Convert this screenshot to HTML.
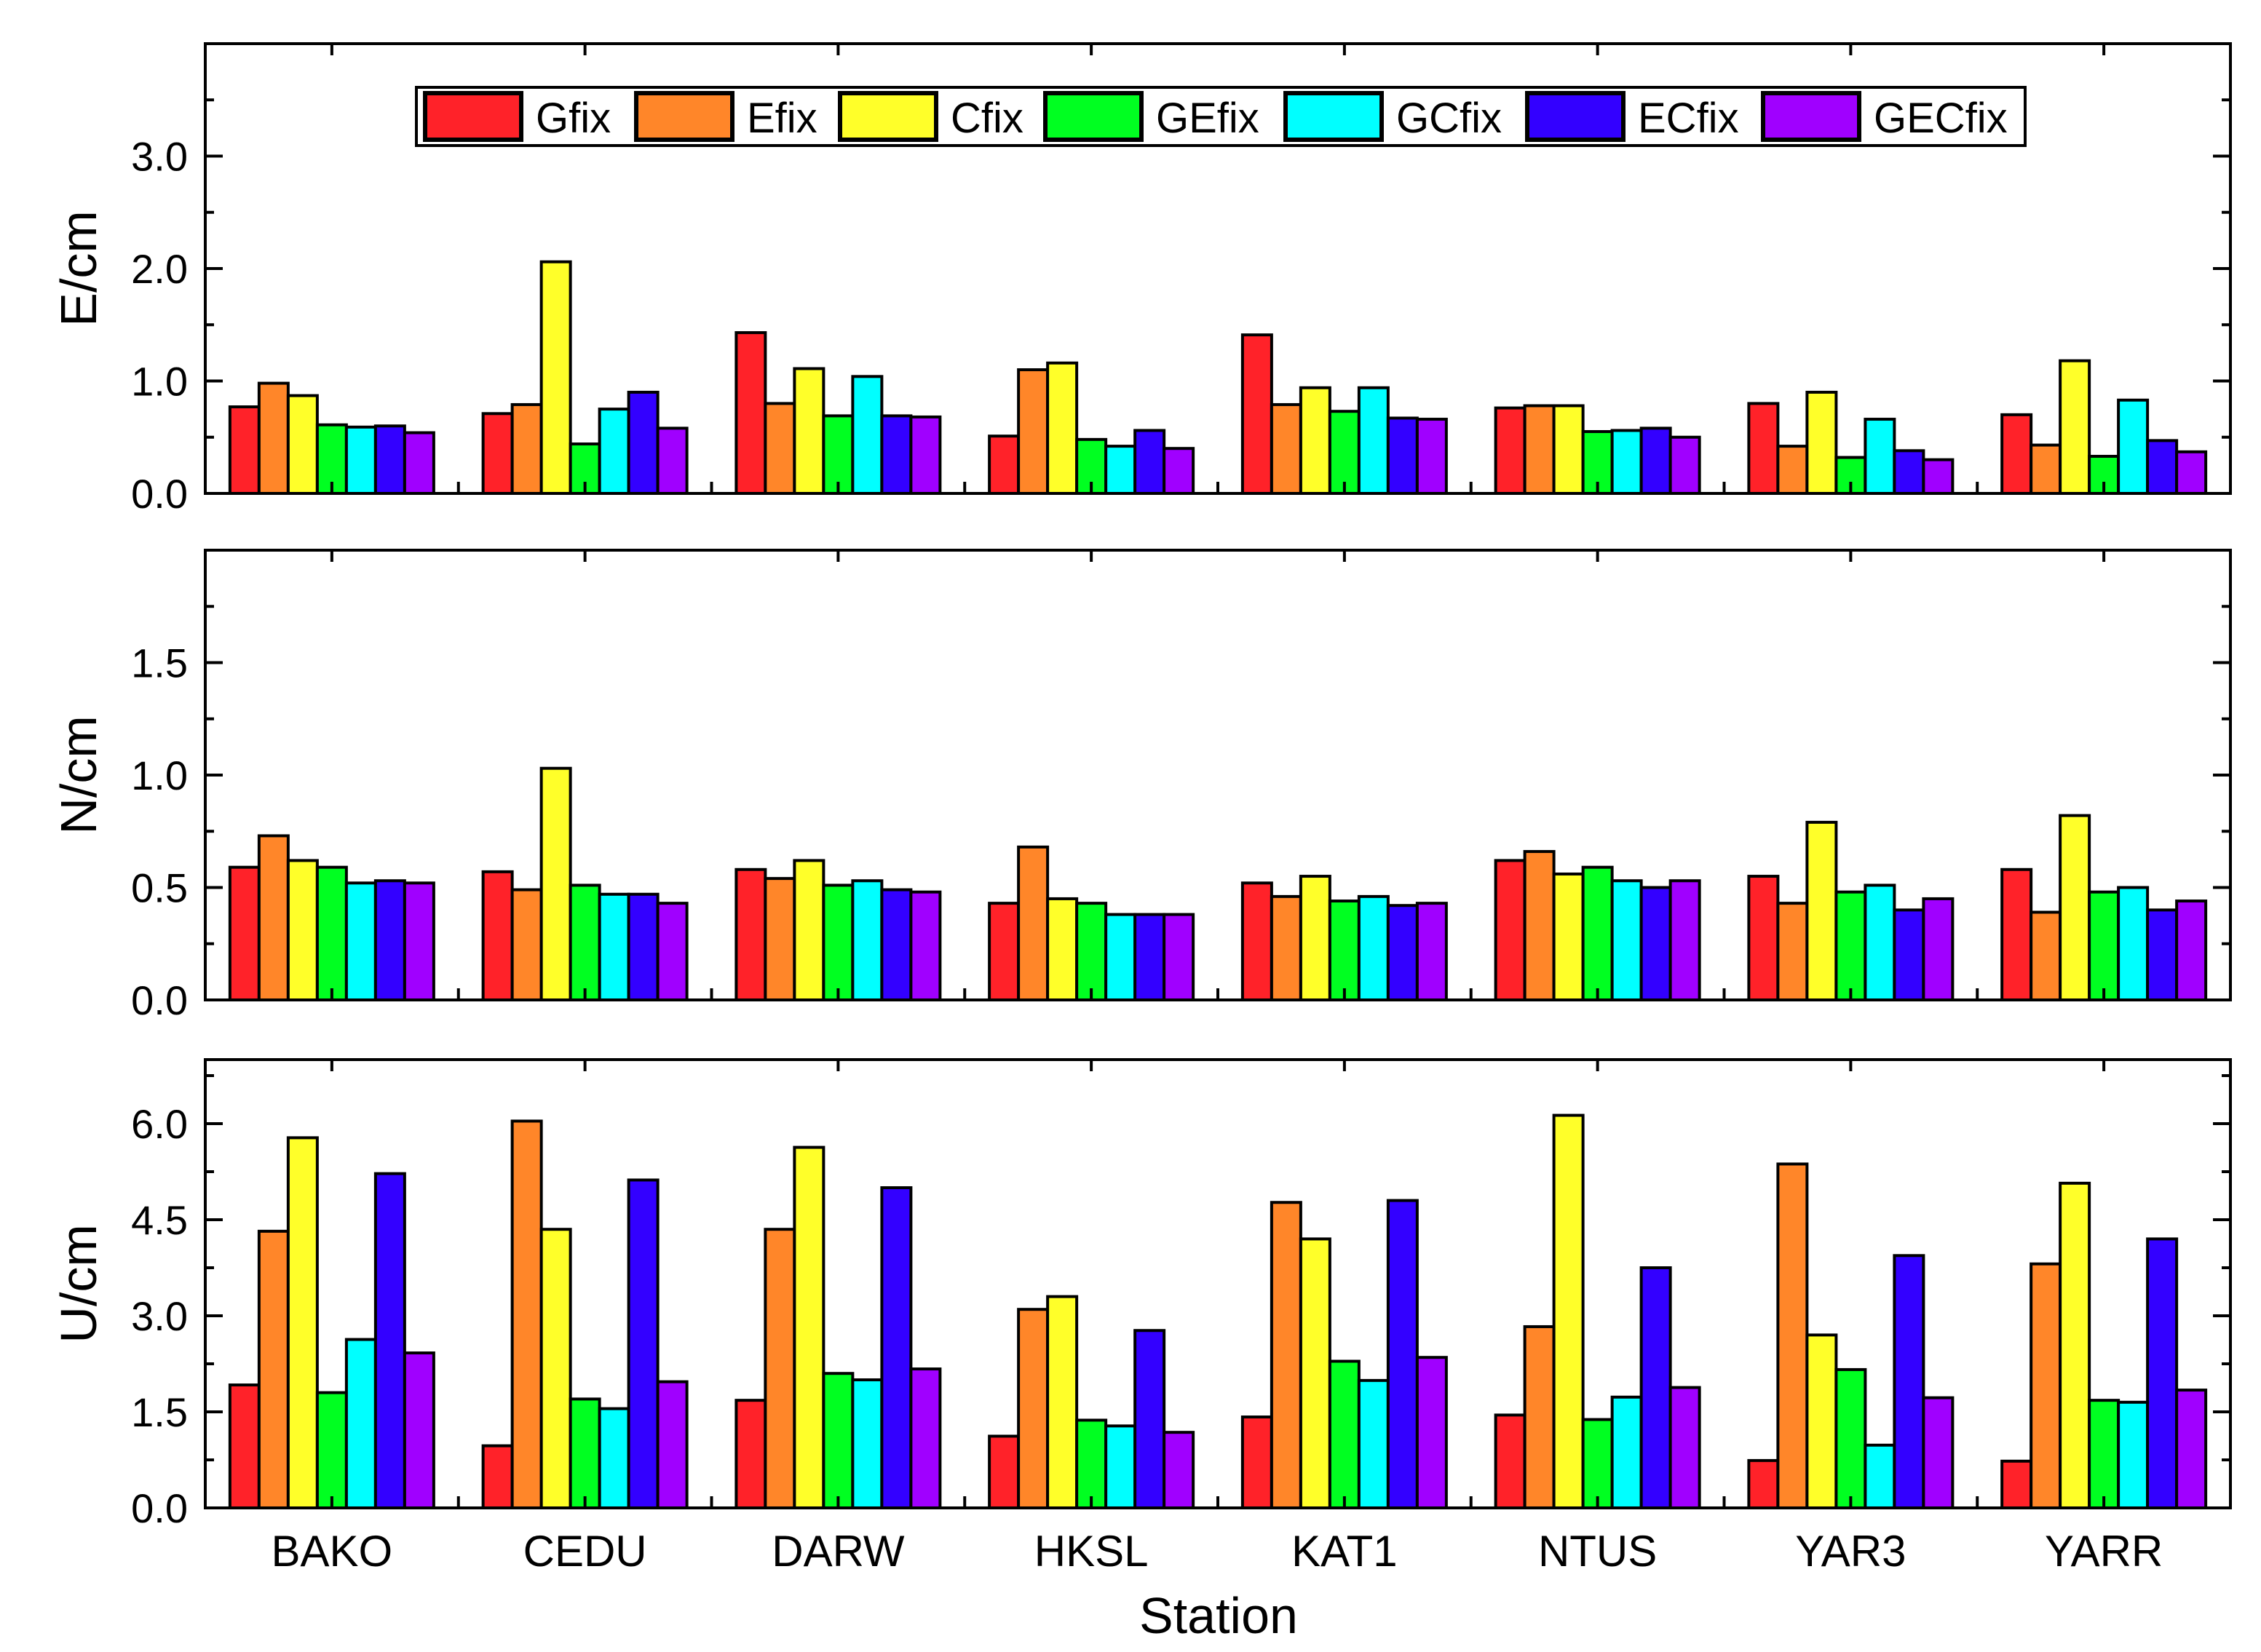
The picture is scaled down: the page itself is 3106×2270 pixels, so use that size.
<!DOCTYPE html>
<html><head><meta charset="utf-8"><style>
html,body{margin:0;padding:0;background:#fff;}
svg{display:block;font-family:"Liberation Sans",Arial,sans-serif;}
</style></head><body>
<svg id="chart" width="3106" height="2270" viewBox="0 0 1553 1135" xmlns="http://www.w3.org/2000/svg"></svg>
<script>
const categories = ["BAKO","CEDU","DARW","HKSL","KAT1","NTUS","YAR3","YARR"];
const seriesNames = ["Gfix","Efix","Cfix","GEfix","GCfix","ECfix","GECfix"];
const colors = ["#ff2229","#ff8629","#ffff29","#00ff21","#00ffff","#3300ff","#a000ff"];
const eValues = [
 [0.77,0.98,0.87,0.61,0.59,0.60,0.54],
 [0.71,0.79,2.06,0.44,0.75,0.90,0.58],
 [1.43,0.80,1.11,0.69,1.04,0.69,0.68],
 [0.51,1.10,1.16,0.48,0.42,0.56,0.40],
 [1.41,0.79,0.94,0.73,0.94,0.67,0.66],
 [0.76,0.78,0.78,0.55,0.56,0.58,0.50],
 [0.80,0.42,0.90,0.32,0.66,0.38,0.30],
 [0.70,0.43,1.18,0.33,0.83,0.47,0.37]];
const nValues = [
 [0.59,0.73,0.62,0.59,0.52,0.53,0.52],
 [0.57,0.49,1.03,0.51,0.47,0.47,0.43],
 [0.58,0.54,0.62,0.51,0.53,0.49,0.48],
 [0.43,0.68,0.45,0.43,0.38,0.38,0.38],
 [0.52,0.46,0.55,0.44,0.46,0.42,0.43],
 [0.62,0.66,0.56,0.59,0.53,0.50,0.53],
 [0.55,0.43,0.79,0.48,0.51,0.40,0.45],
 [0.58,0.39,0.82,0.48,0.50,0.40,0.44]];
const uValues = [
 [1.92,4.32,5.78,1.80,2.63,5.22,2.42],
 [0.97,6.04,4.35,1.70,1.55,5.12,1.97],
 [1.68,4.35,5.63,2.10,2.00,5.00,2.17],
 [1.12,3.10,3.30,1.37,1.28,2.77,1.18],
 [1.42,4.77,4.20,2.29,1.99,4.80,2.35],
 [1.45,2.83,6.13,1.38,1.73,3.75,1.88],
 [0.74,5.37,2.70,2.16,0.98,3.94,1.72],
 [0.73,3.81,5.07,1.68,1.65,4.20,1.84]];
const eTicks = [0,1,2,3];
const nTicks = [0,0.5,1,1.5];
const uTicks = [0,1.5,3,4.5,6];

const NS="http://www.w3.org/2000/svg";
const svg=document.getElementById('chart');
function mk(tag,attrs,parent){const e=document.createElementNS(NS,tag);for(const k in attrs)e.setAttribute(k,attrs[k]);(parent||svg).appendChild(e);return e;}

const X0=141,X1=1532;
const band=(X1-X0)/categories.length, barW=20;
function xCenter(i){return X0+band*(i+0.5);}
function xBar(i,j){return xCenter(i)-barW*3.5+j*barW;}

const panels=[
 {key:'e',title:'E/cm',top:30,bottom:339,max:4,vals:eValues,ticks:eTicks,minor:0.5},
 {key:'n',title:'N/cm',top:378,bottom:687,max:2,vals:nValues,ticks:nTicks,minor:0.25},
 {key:'u',title:'U/cm',top:728,bottom:1036,max:7,vals:uValues,ticks:uTicks,minor:0.75}
];
panels.forEach(p=>{
 const g=mk('g',{});
 
 
 const y=v=>p.bottom-(v/p.max)*(p.bottom-p.top);
 p.vals.forEach((row,i)=>{row.forEach((v,j)=>{
  const r=mk('rect',{x:xBar(i,j),y:y(v),width:barW,height:p.bottom-y(v),fill:colors[j],stroke:'#000','stroke-width':2},g);
  
  
 });});
 const fr=mk('rect',{x:X0,y:p.top,width:X1-X0,height:p.bottom-p.top,fill:'none',stroke:'#000','stroke-width':2},g);
 
 
 for(let v=0;v<=p.max+1e-9;v+=p.minor){
  const isMajor=Math.abs(v/(p.minor*2)-Math.round(v/(p.minor*2)))<1e-6;
  const L=isMajor?12:6;
  mk('line',{x1:X0,x2:X0+L,y1:y(v),y2:y(v),stroke:'#000','stroke-width':2},g);
  mk('line',{x1:X1,x2:X1-L,y1:y(v),y2:y(v),stroke:'#000','stroke-width':2},g);
 }
 p.ticks.forEach(v=>{
  const t=mk('text',{x:X0-12,y:y(v)+10,'text-anchor':'end','font-size':28},g);
  t.textContent=v.toFixed(1);
  
  
 });
 categories.forEach((c,i)=>{
  mk('line',{x1:xCenter(i),x2:xCenter(i),y1:p.bottom,y2:p.bottom-8,stroke:'#000','stroke-width':2},g);
  if(i>0)mk('line',{x1:X0+band*i,x2:X0+band*i,y1:p.bottom,y2:p.bottom-8,stroke:'#000','stroke-width':2},g);
  mk('line',{x1:xCenter(i),x2:xCenter(i),y1:p.top,y2:p.top+8,stroke:'#000','stroke-width':2},g);
 });
 const tt=mk('text',{x:0,y:0,'text-anchor':'middle','font-size':35,transform:`translate(66,${(p.top+p.bottom)/2}) rotate(-90)`},g);
 tt.textContent=p.title;
 
 
});
categories.forEach((c,i)=>{
 const t=mk('text',{x:xCenter(i),y:1076,'text-anchor':'middle','font-size':30});
 t.textContent=c;
 
 
});
const xt=mk('text',{x:837,y:1122,'text-anchor':'middle','font-size':35});
xt.textContent='Station';


const lg=mk('g',{});


mk('rect',{x:286,y:60,width:1105,height:40,fill:'#fff',stroke:'#000','stroke-width':2},lg);
const swX=[292,437,577,718,883,1049,1211];
seriesNames.forEach((s,j)=>{
 const e=mk('g',{},lg);
 
 
 mk('rect',{x:swX[j],y:64,width:66,height:32,fill:colors[j],stroke:'#000','stroke-width':3},e);
 const t=mk('text',{x:swX[j]+76,y:91,'font-size':29},e);
 t.textContent=s;
});
</script>
</body></html>
